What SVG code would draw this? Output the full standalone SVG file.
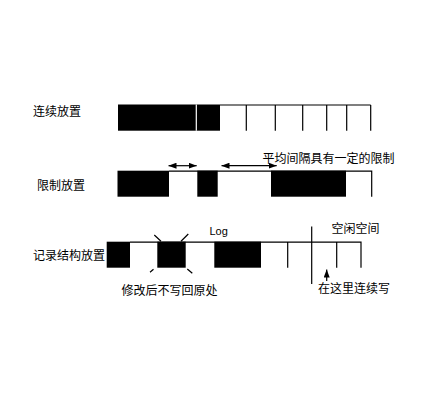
<svg xmlns="http://www.w3.org/2000/svg" width="430" height="400" viewBox="0 0 430 400">
<style>
text{font-family:"Noto Sans CJK SC","Liberation Sans",sans-serif;font-size:12px;fill:#000}
.lat{font-family:"Liberation Sans",sans-serif;font-size:11px;fill:#000}
.blk{fill:#000;stroke:none}
.ln{stroke:#000;stroke-width:1.2;fill:none}
.wl{stroke:#fff;stroke-width:1.2}
</style>
<defs>
<marker id="ah" viewBox="0 0 8 6" refX="8" refY="3" markerWidth="8" markerHeight="6" markerUnits="userSpaceOnUse" orient="auto-start-reverse">
<path d="M0,0 L8,3 L0,6 Z" fill="#000"/>
</marker>
</defs>
<rect width="430" height="400" fill="#fff"/>

<g id="row1">
<text x="33" y="116">连续放置</text>
<rect class="blk" x="118" y="104.5" width="102" height="26.2"/>
<line class="wl" x1="196.3" y1="104.5" x2="196.3" y2="130.7"/>
<path class="ln" d="M220,105 H370.7 M246.3,105 V130.7 M275.3,105 V130.7 M302.7,105 V130.7 M326.7,105 V130.7 M346.7,105 V130.7 M370.7,105 V130.7"/>
</g>

<g id="row2">
<text x="37" y="189.5">限制放置</text>
<rect class="blk" x="117.5" y="170.7" width="51.5" height="26"/>
<rect class="blk" x="197.3" y="170.7" width="20.4" height="26"/>
<rect class="blk" x="271" y="170.7" width="75" height="26"/>
<path class="ln" d="M169,171.2 H371.7 V196.7"/>
<text x="262.5" y="162.5">平均间隔具有一定的限制</text>
</g>

<g id="row3">
<text x="33" y="260">记录结构放置</text>
<rect class="blk" x="106.7" y="241.7" width="23.3" height="26"/>
<rect class="blk" x="157.3" y="241.7" width="28.4" height="26"/>
<rect class="blk" x="214.3" y="241.7" width="46.7" height="26"/>
<path class="ln" d="M130,242.2 H361 V267.7 M287.7,242.2 V267.7 M336.7,242.2 V267.7"/>
<line class="ln" x1="311.7" y1="226.5" x2="311.7" y2="284"/>
<path class="ln" d="M154.3,235 L161,241.2 M188.3,234 L181,241.2 M150,272.3 L153.5,269.3 M187.3,269 L192.3,273.3"/>
<text class="lat" x="209.5" y="234.5" fill="#000">Log</text>
<text x="331.5" y="232.5">空闲空间</text>
<text x="121.5" y="294.5">修改后不写回原处</text>
<text x="318" y="292.5">在这里连续写</text>
</g>

<g id="connectors">
<line class="ln" x1="168.5" y1="165.7" x2="196.7" y2="165.7" marker-start="url(#ah)" marker-end="url(#ah)"/>
<line class="ln" x1="221.5" y1="165.7" x2="276.7" y2="165.7" marker-start="url(#ah)" marker-end="url(#ah)"/>
<line class="ln" x1="326.7" y1="281" x2="326.7" y2="269.5" marker-end="url(#ah)"/>
</g>
</svg>
